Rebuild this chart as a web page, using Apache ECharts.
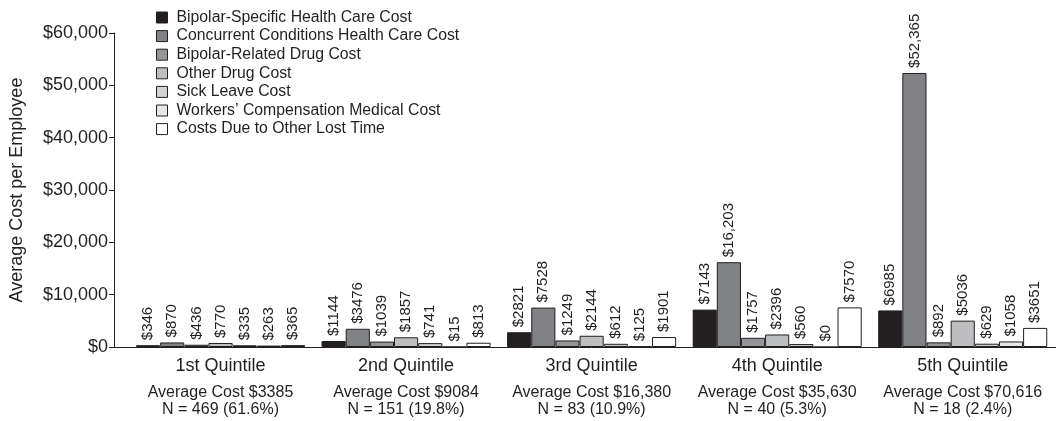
<!DOCTYPE html>
<html>
<head>
<meta charset="utf-8">
<script src="https://cdn.jsdelivr.net/npm/echarts@6/dist/echarts.min.js"></script>
<style>
html,body{margin:0;padding:0;background:#fff;}
#chart{width:1057px;height:421px;}
</style>
</head>
<body>
<div id="chart"></div>
<script>
const categories = ['1st Quintile', '2nd Quintile', '3rd Quintile', '4th Quintile', '5th Quintile'];
const avgCost = ['$3385', '$9084', '$16,380', '$35,630', '$70,616'];
const nCounts = ['N = 469 (61.6%)', 'N = 151 (19.8%)', 'N = 83 (10.9%)', 'N = 40 (5.3%)', 'N = 18 (2.4%)'];
const seriesNames = [
  'Bipolar-Specific Health Care Cost',
  'Concurrent Conditions Health Care Cost',
  'Bipolar-Related Drug Cost',
  'Other Drug Cost',
  'Sick Leave Cost',
  "Workers\u2019 Compensation Medical Cost",
  'Costs Due to Other Lost Time'
];
const bipolarSpecific = [346, 1144, 2821, 7143, 6985];
const concurrent = [870, 3476, 7528, 16203, 52365];
const bipolarDrug = [436, 1039, 1249, 1757, 892];
const otherDrug = [770, 1857, 2144, 2396, 5036];
const sickLeave = [335, 741, 612, 560, 629];
const workersComp = [263, 15, 125, 0, 1058];
const otherLostTime = [365, 813, 1901, 7570, 3651];
const yTicks = [0, 10000, 20000, 30000, 40000, 50000, 60000];

const seriesValues = [bipolarSpecific, concurrent, bipolarDrug, otherDrug, sickLeave, workersComp, otherLostTime];
const colors = ['#231f20', '#808285', '#939598', '#bcbec0', '#d1d3d4', '#e6e7e8', '#ffffff'];
const FONT = '"Liberation Sans", Arial, Helvetica, sans-serif';

function fmtComma(v) { return String(v).replace(/\B(?=(\d{3})+(?!\d))/g, ','); }
function fmtBar(v) { return '$' + (v >= 10000 ? fmtComma(v) : String(v)); }

const chart = echarts.init(document.getElementById('chart'), null, {renderer: 'canvas'});

const gridLeft = 127.75, gridRight = 1.5, gridTop = 33, gridBottom = 74;

const option = {
  animation: false,
  backgroundColor: '#ffffff',
  textStyle: {fontFamily: FONT},
  color: colors,
  legend: {
    orient: 'vertical',
    left: 151,
    top: 4,
    itemWidth: 11,
    itemHeight: 11,
    itemGap: 1.6,
    icon: 'rect',
    textStyle: {fontFamily: FONT, fontSize: 15.8, color: '#231f20', padding: [0, 0, 0, 4], lineHeight: 17},
    data: seriesNames.map(n => ({name: n, itemStyle: {borderColor: '#231f20', borderWidth: 1}}))
  },
  grid: {left: gridLeft, right: gridRight, top: gridTop, bottom: gridBottom, containLabel: false},
  xAxis: {
    type: 'category',
    data: categories,
    axisLine: {show: true, lineStyle: {color: '#231f20', width: 1}},
    axisTick: {show: false},
    axisLabel: {
      margin: 1,
      interval: 0,
      formatter: function (v, i) {
        return '{a|' + v + '}\n{b|Average Cost ' + avgCost[i] + '}\n{b|' + nCounts[i] + '}';
      },
      rich: {
        a: {fontFamily: FONT, fontSize: 18, color: '#231f20', lineHeight: 36},
        b: {fontFamily: FONT, fontSize: 16, color: '#231f20', lineHeight: 17}
      }
    }
  },
  yAxis: {
    type: 'value',
    min: 0,
    max: 60000,
    interval: 10000,
    offset: gridLeft - 114,
    name: 'Average Cost per Employee',
    nameLocation: 'middle',
    nameGap: 88,
    nameTextStyle: {fontFamily: FONT, fontSize: 18, color: '#231f20'},
    axisLine: {show: true, lineStyle: {color: '#231f20', width: 1}},
    axisTick: {show: true, length: 5, lineStyle: {color: '#231f20'}},
    splitLine: {show: false},
    axisLabel: {
      fontFamily: FONT, fontSize: 18, color: '#231f20', margin: 6,
      formatter: v => '$' + fmtComma(v)
    }
  },
  series: seriesValues.map((vals, i) => ({
    name: seriesNames[i],
    type: 'bar',
    data: vals,
    barGap: '0%',
    barCategoryGap: '8.9%',
    itemStyle: {color: colors[i], borderColor: '#231f20', borderWidth: 1},
    label: {
      show: true,
      position: 'top',
      rotate: 90,
      align: 'left',
      verticalAlign: 'middle',
      distance: 5,
      fontFamily: FONT,
      fontSize: 15,
      color: '#231f20',
      formatter: p => fmtBar(p.value)
    }
  }))
};
chart.setOption(option);

// extend the x axis baseline to the offset y axis
const zeroY = chart.convertToPixel({yAxisIndex: 0}, 0);
chart.setOption({
  graphic: [{
    type: 'line',
    shape: {x1: 114, y1: Math.round(zeroY) + 0.5, x2: gridLeft + 1, y2: Math.round(zeroY) + 0.5},
    style: {stroke: '#231f20', lineWidth: 1},
    silent: true
  }]
});
</script>
</body>
</html>
